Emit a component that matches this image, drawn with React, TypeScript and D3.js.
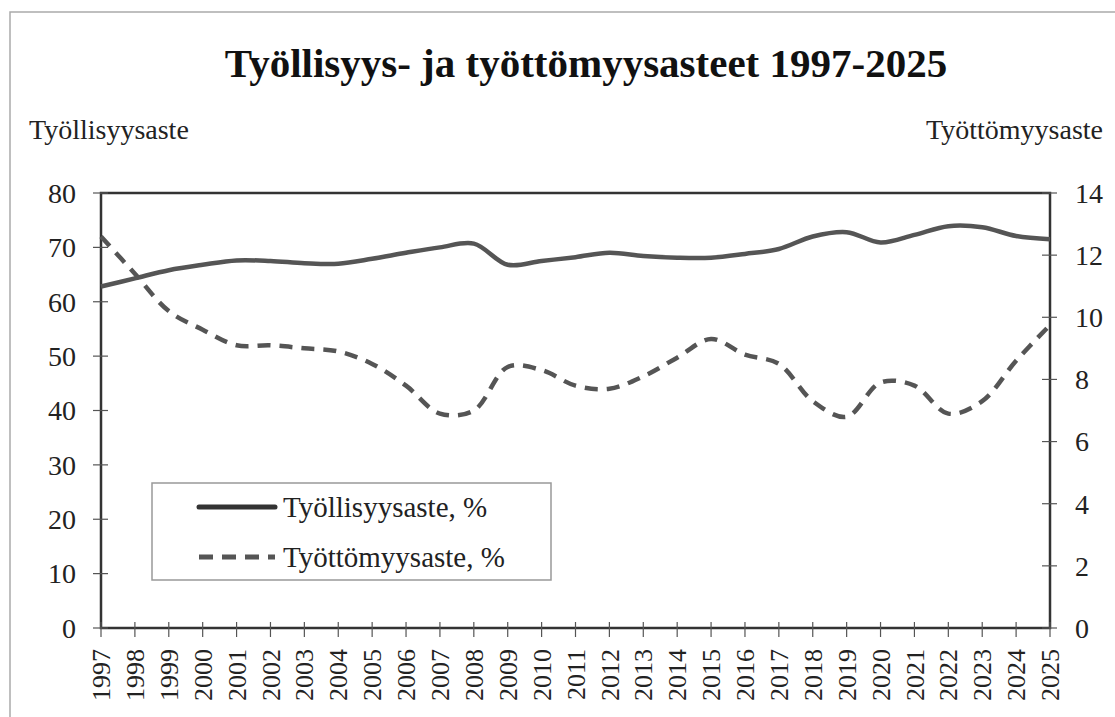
import React, { useEffect, useRef } from 'react';
import * as d3 from 'd3';

const years = d3.range(1997, 2026);
const employment = [62.8, 64.3, 65.8, 66.8, 67.6, 67.5, 67.1, 67.0, 67.9, 69.0, 70.0, 70.7, 66.8, 67.5, 68.2, 69.0, 68.4, 68.1, 68.1, 68.8, 69.7, 72.0, 72.8, 70.9, 72.3, 73.9, 73.7, 72.1, 71.5];
const unemployment = [12.6, 11.4, 10.2, 9.6, 9.1, 9.1, 9.0, 8.9, 8.5, 7.8, 6.9, 7.0, 8.4, 8.3, 7.8, 7.7, 8.1, 8.7, 9.3, 8.8, 8.5, 7.3, 6.8, 7.9, 7.8, 6.9, 7.3, 8.6, 9.75];
const leftTicks = [0, 10, 20, 30, 40, 50, 60, 70, 80];
const rightTicks = [0, 2, 4, 6, 8, 10, 12, 14];

const FONT = "'Liberation Serif', 'Times New Roman', serif";

const App = () => {
  const svgRef = useRef<SVGSVGElement>(null);

  useEffect(() => {
    if (!svgRef.current) return;
    const svg = d3.select(svgRef.current);
    svg.selectAll('*').remove();

    const width = 1115;
    const height = 717;
    const plot = { left: 101, right: 1050, top: 193, bottom: 628 };

    svg.append('rect').attr('width', width).attr('height', height).attr('fill', '#fff');

    // outer frame
    svg.append('path')
      .attr('d', `M10,${height} L10,12 L${width},12`)
      .attr('fill', 'none')
      .attr('stroke', '#aaa')
      .attr('stroke-width', 1.5);

    const x = d3.scaleLinear().domain([1997, 2025]).range([plot.left, plot.right]);
    const yL = d3.scaleLinear().domain([0, 80]).range([plot.bottom, plot.top]);
    const yR = d3.scaleLinear().domain([0, 14]).range([plot.bottom, plot.top]);

    // title
    svg.append('text')
      .attr('x', 586)
      .attr('y', 77)
      .attr('text-anchor', 'middle')
      .attr('font-family', FONT)
      .attr('font-weight', 'bold')
      .attr('font-size', 41)
      .attr('fill', '#111')
      .text('Työllisyys- ja työttömyysasteet 1997-2025');

    svg.append('text')
      .attr('x', 29).attr('y', 139)
      .attr('font-family', FONT).attr('font-size', 28).attr('fill', '#222')
      .text('Työllisyysaste');

    svg.append('text')
      .attr('x', 1103).attr('y', 139)
      .attr('text-anchor', 'end')
      .attr('font-family', FONT).attr('font-size', 28).attr('fill', '#222')
      .text('Työttömyysaste');

    // plot frame
    svg.append('rect')
      .attr('x', plot.left).attr('y', plot.top)
      .attr('width', plot.right - plot.left).attr('height', plot.bottom - plot.top)
      .attr('fill', 'none').attr('stroke', '#333').attr('stroke-width', 2.5);

    // left axis ticks
    const left = svg.append('g');
    leftTicks.forEach(t => {
      left.append('line')
        .attr('x1', plot.left - 8).attr('x2', plot.left + 7)
        .attr('y1', yL(t)).attr('y2', yL(t))
        .attr('stroke', '#555').attr('stroke-width', 1.2);
      left.append('text')
        .attr('x', 76).attr('y', yL(t)).attr('dy', '0.35em')
        .attr('text-anchor', 'end')
        .attr('font-family', FONT).attr('font-size', 28).attr('fill', '#222')
        .text(t);
    });

    // right axis ticks
    const right = svg.append('g');
    rightTicks.forEach(t => {
      right.append('line')
        .attr('x1', plot.right - 8).attr('x2', plot.right + 7)
        .attr('y1', yR(t)).attr('y2', yR(t))
        .attr('stroke', '#555').attr('stroke-width', 1.2);
      right.append('text')
        .attr('x', 1075).attr('y', yR(t)).attr('dy', '0.35em')
        .attr('text-anchor', 'start')
        .attr('font-family', FONT).attr('font-size', 28).attr('fill', '#222')
        .text(t);
    });

    // x ticks and year labels
    const bottom = svg.append('g');
    years.forEach(yr => {
      bottom.append('line')
        .attr('x1', x(yr)).attr('x2', x(yr))
        .attr('y1', plot.bottom - 6).attr('y2', plot.bottom + 9)
        .attr('stroke', '#555').attr('stroke-width', 1.2);
      bottom.append('text')
        .attr('transform', `translate(${x(yr)},${plot.bottom + 21}) rotate(-90)`)
        .attr('dy', '0.35em')
        .attr('text-anchor', 'end')
        .attr('font-family', FONT).attr('font-size', 26).attr('fill', '#222')
        .text(yr);
    });

    // lines
    const lineL = d3.line<number>()
      .x((_, i) => x(years[i]))
      .y(d => yL(d))
      .curve(d3.curveCatmullRom.alpha(0.5));
    const lineR = d3.line<number>()
      .x((_, i) => x(years[i]))
      .y(d => yR(d))
      .curve(d3.curveCatmullRom.alpha(0.5));

    svg.append('path')
      .attr('d', lineR(unemployment))
      .attr('fill', 'none')
      .attr('stroke', '#555')
      .attr('stroke-width', 4.5)
      .attr('stroke-dasharray', '13,9');

    svg.append('path')
      .attr('d', lineL(employment))
      .attr('fill', 'none')
      .attr('stroke', '#555')
      .attr('stroke-width', 4.5);

    // legend
    const lg = svg.append('g');
    lg.append('rect')
      .attr('x', 152).attr('y', 483).attr('width', 399).attr('height', 97)
      .attr('fill', '#fff').attr('stroke', '#999').attr('stroke-width', 1.5);
    lg.append('line')
      .attr('x1', 199).attr('x2', 275).attr('y1', 507).attr('y2', 507)
      .attr('stroke', '#333').attr('stroke-width', 5).attr('stroke-linecap', 'round');
    lg.append('line')
      .attr('x1', 199).attr('x2', 275).attr('y1', 557).attr('y2', 557)
      .attr('stroke', '#555').attr('stroke-width', 5).attr('stroke-dasharray', '14,9');
    lg.append('text')
      .attr('x', 283).attr('y', 507).attr('dy', '0.35em')
      .attr('font-family', FONT).attr('font-size', 29).attr('fill', '#222')
      .text('Työllisyysaste, %');
    lg.append('text')
      .attr('x', 283).attr('y', 557).attr('dy', '0.35em')
      .attr('font-family', FONT).attr('font-size', 29).attr('fill', '#222')
      .text('Työttömyysaste, %');
  }, []);

  return (
    <div style={{ position: 'absolute', left: 0, top: 0 }}>
      <svg ref={svgRef} width={1115} height={717} style={{ display: 'block' }}></svg>
    </div>
  );
};

export default App;
